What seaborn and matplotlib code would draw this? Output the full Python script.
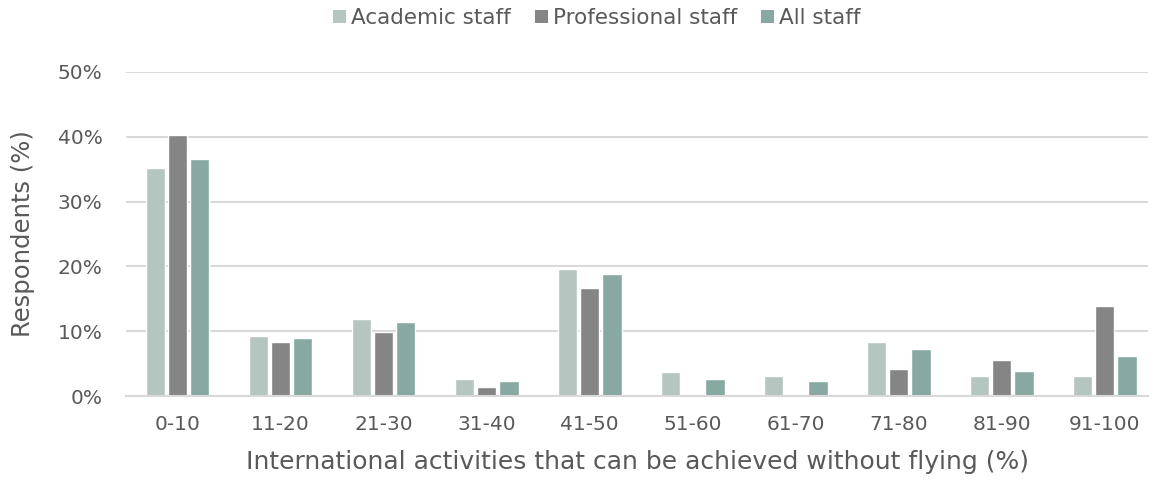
import matplotlib
matplotlib.use("Agg")
import matplotlib.pyplot as plt
import seaborn as sns
import pandas as pd
from matplotlib.patches import Patch

categories = ["0-10", "11-20", "21-30", "31-40", "41-50", "51-60", "61-70", "71-80", "81-90", "91-100"]
academic = [35.2, 9.3, 11.9, 2.6, 19.6, 3.7, 3.1, 8.3, 3.1, 3.1]
professional = [40.3, 8.4, 9.8, 1.4, 16.7, 0.0, 0.0, 4.2, 5.6, 13.9]
all_staff = [36.6, 9.0, 11.4, 2.3, 18.8, 2.7, 2.3, 7.2, 3.8, 6.1]
series_names = ["Academic staff", "Professional staff", "All staff"]
yticks = [0, 10, 20, 30, 40, 50]
ytick_labels = ["0%", "10%", "20%", "30%", "40%", "50%"]

colors = ["#B5C5BF", "#858585", "#88A8A2"]
text_color = "#595959"
grid_color = "#D9D9D9"

df = pd.DataFrame({
    "cat": categories * 3,
    "val": academic + professional + all_staff,
    "series": [series_names[0]] * 10 + [series_names[1]] * 10 + [series_names[2]] * 10,
})

sns.set_theme(style="white")
plt.rcParams["font.family"] = ["DejaVu Sans"]

fig = plt.figure(figsize=(11.59, 4.82), dpi=100)
ax = fig.add_axes([126 / 1159, (482 - 396) / 482, (1148 - 126) / 1159, (396 - 72) / 482])

sns.barplot(data=df, x="cat", y="val", hue="series", order=categories,
            hue_order=series_names, palette=colors, width=0.65, gap=0.14,
            errorbar=None, ax=ax, legend=False, saturation=1)

ax.set_xlim(-0.5, 9.42)
ax.set_ylim(0, 50)
ax.set_yticks(yticks)
ax.set_yticklabels(ytick_labels)
ax.yaxis.grid(True, color=grid_color, linewidth=1.5)
ax.set_axisbelow(True)
for s in ["top", "right", "left"]:
    ax.spines[s].set_visible(False)
ax.spines["bottom"].set_color(grid_color)
ax.spines["bottom"].set_linewidth(1.5)
ax.tick_params(axis="both", length=0, labelsize=14.5, colors=text_color)
ax.tick_params(axis="y", pad=17)
ax.tick_params(axis="x", pad=14)
ax.set_xlabel("International activities that can be achieved without flying (%)",
              fontsize=18, color=text_color, labelpad=11)
ax.set_ylabel("Respondents (%)", fontsize=17.5, color=text_color, labelpad=16)

handles = [Patch(facecolor=c, edgecolor="none") for c in colors]
fig.legend(handles, series_names, loc="center", bbox_to_anchor=(597 / 1159, 1 - 18 / 482),
           ncol=3, frameon=False, fontsize=15.5, labelcolor=text_color,
           handlelength=0.6, handleheight=0.6, handletextpad=0.25, columnspacing=1.1)

fig.savefig("out.png", dpi=100)
